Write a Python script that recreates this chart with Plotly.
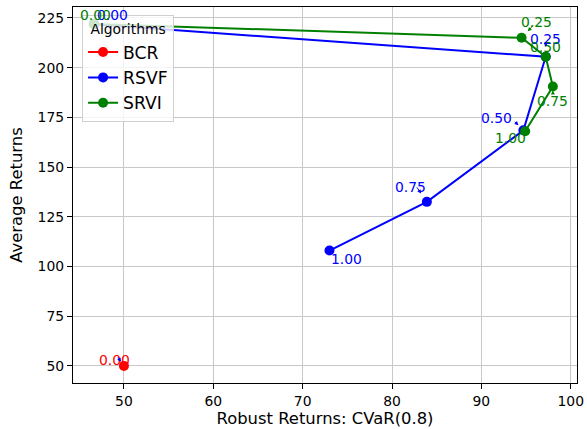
import plotly.graph_objects as go

# ---- data ----
alphas = ["0.00", "0.25", "0.50", "0.75", "1.00"]

bcr_labels = ["0.00"]
bcr_x = [50.0]
bcr_y = [50.0]

rsvf_x = [46.7, 97.2, 94.7, 83.9, 73.0]
rsvf_y = [221.8, 205.5, 168.5, 132.5, 108.0]

srvi_x = [46.6, 94.5, 97.2, 98.0, 94.9]
srvi_y = [222.0, 215.0, 205.5, 190.5, 168.0]

x_ticks = [50, 60, 70, 80, 90, 100]
y_ticks = [50, 75, 100, 125, 150, 175, 200, 225]

# ---- styles ----
RED, BLUE, GREEN = "#ff0000", "#0000ff", "#008000"
FONT = "DejaVu Sans"
FS = 13.9
FS_TITLE = 16.4

# label offsets in pixels (dx right, dy down) per series/point
bcr_off = [(-9, -6)]
rsvf_off = [(18, -9), (0, -18), (-27, -12), (-16, -15), (17, 8)]
srvi_off = [(2, -9), (15, -16), (0, -10), (0, 14), (-15, 7)]

# small arrows: (series, index, tail dx, tail dy, standoff)
arrows = [
    ("srvi", 1, 13, -14, 9),
    ("rsvf", 1, 0, -16, 10),
    ("srvi", 3, 0, 9, 4),
    ("rsvf", 2, -10, -10, 7),
    ("rsvf", 3, -11, -16, 10),
    ("bcr", 0, -7, -10, 5),
]

fig = go.Figure()
series = {
    "bcr": (bcr_x, bcr_y, RED, "BCR", bcr_labels, bcr_off),
    "rsvf": (rsvf_x, rsvf_y, BLUE, "RSVF", alphas, rsvf_off),
    "srvi": (srvi_x, srvi_y, GREEN, "SRVI", alphas, srvi_off),
}
for key in ["bcr", "rsvf", "srvi"]:
    xs, ys, col, name, labs, _ = series[key]
    fig.add_trace(go.Scatter(
        x=xs, y=ys, mode="lines+markers", name=name,
        line=dict(color=col, width=2),
        marker=dict(color=col, size=10),
    ))

annotations = []
for key in ["bcr", "rsvf", "srvi"]:
    xs, ys, col, name, labs, offs = series[key]
    for xv, yv, lab, (dx, dy) in zip(xs, ys, labs, offs):
        annotations.append(dict(
            x=xv, y=yv, xref="x", yref="y", text=lab, showarrow=False,
            xshift=dx, yshift=-dy,
            font=dict(family=FONT, size=FS, color=col),
        ))
arrow_colors = {"bcr": BLUE, "rsvf": BLUE, "srvi": GREEN}
for key, i, ax, ay, so in arrows:
    xs, ys = series[key][0], series[key][1]
    annotations.append(dict(
        x=xs[i], y=ys[i], xref="x", yref="y", text="", showarrow=True,
        ax=ax, ay=ay, standoff=so, arrowhead=2, arrowsize=0.8,
        arrowwidth=1, arrowcolor=arrow_colors[key],
    ))

axis_common = dict(
    showgrid=True, gridcolor="#c8c8c8", gridwidth=1,
    showline=True, linecolor="black", linewidth=1.2, mirror=True,
    ticks="outside", ticklen=5, tickcolor="black", tickwidth=1,
    tickfont=dict(family=FONT, size=FS, color="black"),
    zeroline=False, automargin=False,
)

fig.update_layout(
    width=587, height=429,
    margin=dict(l=73, r=10, t=7, b=46),
    paper_bgcolor="white", plot_bgcolor="white",
    font=dict(family=FONT, size=FS, color="black"),
    xaxis=dict(range=[44.3, 100.7], tickvals=x_ticks,
               title=dict(text="Robust Returns: CVaR(0.8)", standoff=4,
                          font=dict(family=FONT, size=FS_TITLE)),
               **axis_common),
    yaxis=dict(range=[41.4, 230.5], tickvals=y_ticks,
               title=dict(text="Average Returns", standoff=10,
                          font=dict(family=FONT, size=FS_TITLE)),
               **axis_common),
    legend=dict(
        title=dict(text="Algorithms", font=dict(family=FONT, size=FS), side="top center"),
        font=dict(family=FONT, size=17.2),
        x=0.018, y=0.978, xanchor="left", yanchor="top",
        bgcolor="rgba(255,255,255,0.8)", bordercolor="#d0d0d0", borderwidth=1,
        itemwidth=30, tracegroupgap=0,
    ),
    annotations=annotations,
    showlegend=True,
)

fig.write_html(
    "out.html",
    config={"displayModeBar": False},
    post_script="document.body.style.margin='0';document.body.style.overflow='hidden';",
)
